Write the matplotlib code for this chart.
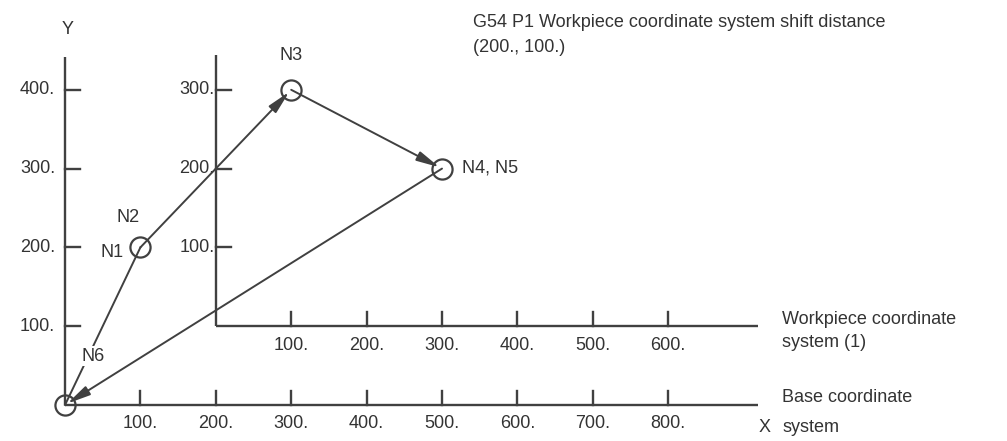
import matplotlib
matplotlib.use("Agg")
import matplotlib.pyplot as plt

plt.rcParams['font.family'] = ['Liberation Sans', 'DejaVu Sans']

# ---- data (base coordinate system units) ----
base_xticks = [100, 200, 300, 400, 500, 600, 700, 800]
base_yticks = [100, 200, 300, 400]
base_xlabels = ["100.", "200.", "300.", "400.", "500.", "600.", "700.", "800."]
base_ylabels = ["100.", "200.", "300.", "400."]

wp_shift = (200, 100)                       # G54 P1 shift distance
wp_xticks = [100, 200, 300, 400, 500, 600]
wp_yticks = [100, 200, 300]
wp_xlabels = ["100.", "200.", "300.", "400.", "500.", "600."]
wp_ylabels = ["100.", "200.", "300."]

# tool path points (base coords)
origin = (0, 0)
n1 = (100, 200)
n3 = (300, 400)
n4 = (500, 300)

axis_x_end = 919
base_y_end = 442
wp_y_end = 444

LC = "#404040"
TC = "#333333"
FS = 13

W, H = 1007, 441
fig = plt.figure(figsize=(W / 100, H / 100), dpi=100)
ax = fig.add_axes([0, 0, 1, 1])
ox_px, oy_px = 65, 405
sx, sy = 0.754, 0.788
ax.set_xlim(-ox_px / sx, (W - ox_px) / sx)
ax.set_ylim(-(H - oy_px) / sy, oy_px / sy)
ax.axis("off")

lw = 1.7
# base axes
ax.plot([0, axis_x_end], [0, 0], color=LC, lw=lw, solid_capstyle='butt')
ax.plot([0, 0], [0, base_y_end], color=LC, lw=lw, solid_capstyle='butt')
for x, lab in zip(base_xticks, base_xlabels):
    ax.plot([x, x], [0, 18], color=LC, lw=lw)
    ax.text(x, -23, lab, ha="center", va="center", fontsize=FS, color=TC)
for y, lab in zip(base_yticks, base_ylabels):
    ax.plot([0, 20], [y, y], color=LC, lw=lw)
    ax.text(-13, y, lab, ha="right", va="center", fontsize=FS, color=TC)

# workpiece axes
wx0, wy0 = wp_shift
ax.plot([wx0, axis_x_end], [wy0, wy0], color=LC, lw=lw, solid_capstyle='butt')
ax.plot([wx0, wx0], [wy0, wp_y_end], color=LC, lw=lw, solid_capstyle='butt')
for x, lab in zip(wp_xticks, wp_xlabels):
    ax.plot([wx0 + x, wx0 + x], [wy0, wy0 + 18], color=LC, lw=lw)
    ax.text(wx0 + x, wy0 - 24, lab, ha="center", va="center", fontsize=FS, color=TC)
for y, lab in zip(wp_yticks, wp_ylabels):
    ax.plot([wx0, wx0 + 20], [wy0 + y, wy0 + y], color=LC, lw=lw)
    ax.text(wx0 - 2, wy0 + y, lab, ha="right", va="center", fontsize=FS, color=TC)

# tool path
ax.plot([origin[0], n1[0]], [origin[1], n1[1]], color=LC, lw=1.4, zorder=2)
arrow_kw = dict(arrowstyle="-|>,head_length=1.4,head_width=0.3", color=LC, lw=1.4,
                shrinkA=0, shrinkB=2, mutation_scale=10)
ax.annotate("", xy=n3, xytext=n1, arrowprops=arrow_kw)
ax.annotate("", xy=n4, xytext=n3, arrowprops=arrow_kw)
ax.annotate("", xy=origin, xytext=n4, arrowprops=arrow_kw)

for p in [origin, n1, n3, n4]:
    ax.plot(p[0], p[1], marker="o", markersize=14.5, markerfacecolor="none",
            markeredgecolor=LC, markeredgewidth=1.6, zorder=4)

# labels
ax.text(3, 476, "Y", ha="center", va="center", fontsize=FS, color=TC)
ax.text(300, 443, "N3", ha="center", va="center", fontsize=FS, color=TC)
ax.text(83, 238, "N2", ha="center", va="center", fontsize=FS, color=TC)
ax.text(62, 194, "N1", ha="center", va="center", fontsize=FS, color=TC)
ax.text(37, 62, "N6", ha="center", va="center", fontsize=FS, color=TC, zorder=5,
        bbox=dict(facecolor="white", edgecolor="none", pad=1))
ax.text(527, 301, "N4, N5", ha="left", va="center", fontsize=FS, color=TC)
ax.text(541, 486, "G54 P1 Workpiece coordinate system shift distance",
        ha="left", va="center", fontsize=FS, color=TC)
ax.text(541, 454, "(200., 100.)", ha="left", va="center", fontsize=FS, color=TC)
ax.text(951, 108, "Workpiece coordinate", ha="left", va="center", fontsize=FS, color=TC)
ax.text(951, 79, "system (1)", ha="left", va="center", fontsize=FS, color=TC)
ax.text(951, 10, "Base coordinate", ha="left", va="center", fontsize=FS, color=TC)
ax.text(951, -28, "system", ha="left", va="center", fontsize=FS, color=TC)
ax.text(928, -28, "X", ha="center", va="center", fontsize=FS, color=TC)

fig.savefig("out.png", dpi=100, facecolor="white")
